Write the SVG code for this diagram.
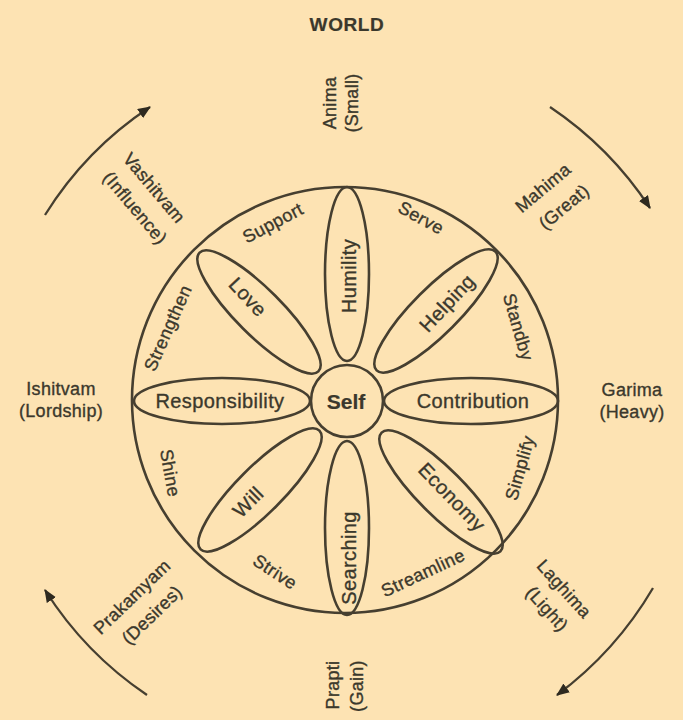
<svg xmlns="http://www.w3.org/2000/svg" width="683" height="720" viewBox="0 0 683 720">
<style>
.ln{fill:none;stroke:#463f30;stroke-width:2.6}
.t{font-family:"Liberation Sans",Arial,sans-serif;fill:#3b382c;stroke:#3b382c;stroke-width:0.35;text-anchor:middle;dominant-baseline:central}
.p{font-size:20px;letter-spacing:0.4px}
.r{font-size:18px;letter-spacing:0.4px}
.o{font-size:18px;letter-spacing:0.3px}
.b{font-weight:bold;stroke-width:0.2}
.arc{fill:none;stroke:#463f30;stroke-width:2.3}
</style>
<defs>
<marker id="ah" viewBox="0 0 12 10" refX="11" refY="5" markerWidth="13" markerHeight="11" orient="auto" markerUnits="userSpaceOnUse">
<path d="M0,0 L12,5 L0,10 z" fill="#2e2a20"/>
</marker>
</defs>
<rect width="683" height="720" fill="#fde3b3"/>

<g id="world"><text class="t b" x="347" y="24" font-size="19" letter-spacing="0.6">WORLD</text></g>

<g id="outer-circle"><circle class="ln" cx="345" cy="400" r="213"/></g>

<g id="self"><circle class="ln" cx="347" cy="401" r="36"/><text class="t b" x="346" y="401" font-size="21">Self</text></g>

<g id="petal-humility"><ellipse class="ln" cx="347" cy="274" rx="22" ry="87"/><text class="t p" transform="translate(349,276) rotate(-90)">Humility</text></g>
<g id="petal-searching"><ellipse class="ln" cx="347" cy="528" rx="22" ry="87"/><text class="t p" transform="translate(349,558) rotate(-90)">Searching</text></g>
<g id="petal-responsibility"><ellipse class="ln" cx="222" cy="401" rx="88" ry="23"/><text class="t p" x="220" y="401">Responsibility</text></g>
<g id="petal-contribution"><ellipse class="ln" cx="471" cy="401" rx="87" ry="23"/><text class="t p" x="473" y="401">Contribution</text></g>
<g id="petal-love"><ellipse class="ln" cx="259" cy="312" rx="23" ry="84" transform="rotate(-45 259 312)"/><text class="t p" transform="translate(248,297) rotate(47)">Love</text></g>
<g id="petal-helping"><ellipse class="ln" cx="436" cy="311" rx="23" ry="84" transform="rotate(45 436 311)"/><text class="t p" transform="translate(447,303) rotate(-47)">Helping</text></g>
<g id="petal-will"><ellipse class="ln" cx="260" cy="490" rx="23" ry="84" transform="rotate(45 260 490)"/><text class="t p" transform="translate(248,502) rotate(-45)">Will</text></g>
<g id="petal-economy"><ellipse class="ln" cx="441" cy="492" rx="23" ry="84" transform="rotate(-45 441 492)"/><text class="t p" transform="translate(452,497) rotate(46)">Economy</text></g>

<g id="ring-labels">
<text class="t r" transform="translate(273,223) rotate(-28)">Support</text>
<text class="t r" transform="translate(421,218) rotate(29)">Serve</text>
<text class="t r" transform="translate(518,327) rotate(74)">Standby</text>
<text class="t r" transform="translate(520,468) rotate(-74)">Simplify</text>
<text class="t r" transform="translate(423,573) rotate(-25)">Streamline</text>
<text class="t r" transform="translate(275,572) rotate(33)">Strive</text>
<text class="t r" transform="translate(170,473) rotate(80)">Shine</text>
<text class="t r" transform="translate(168,328) rotate(-66)">Strengthen</text>
</g>

<g id="label-anima"><text class="t o" transform="translate(330,103) rotate(-90)">Anima</text><text class="t o" transform="translate(352,103) rotate(-90)">(Small)</text></g>
<g id="label-mahima"><text class="t o" transform="translate(543,188) rotate(-40)">Mahima</text><text class="t o" transform="translate(564,207) rotate(-40)">(Great)</text></g>
<g id="label-garima"><text class="t o" x="632" y="390">Garima</text><text class="t o" x="632" y="412">(Heavy)</text></g>
<g id="label-laghima"><text class="t o" transform="translate(564,589) rotate(48)">Laghima</text><text class="t o" transform="translate(547,609) rotate(48)">(Light)</text></g>
<g id="label-prapti"><text class="t o" transform="translate(333,685) rotate(-90)">Prapti</text><text class="t o" transform="translate(357,686) rotate(-90)">(Gain)</text></g>
<g id="label-prakamyam"><text class="t o" transform="translate(132,597) rotate(-44)">Prakamyam</text><text class="t o" transform="translate(152,615) rotate(-44)">(Desires)</text></g>
<g id="label-ishitvam"><text class="t o" x="61" y="389">Ishitvam</text><text class="t o" x="61" y="411">(Lordship)</text></g>
<g id="label-vashitvam"><text class="t o" transform="translate(154,188) rotate(50)">Vashitvam</text><text class="t o" transform="translate(135,208) rotate(50)">(Influence)</text></g>

<g id="connectors">
<path class="arc" d="M45,215 A353,353 0 0 1 150,107" marker-end="url(#ah)"/>
<path class="arc" d="M550,107 A358,358 0 0 1 650,208" marker-end="url(#ah)"/>
<path class="arc" d="M653,588 A361,361 0 0 1 557,695" marker-end="url(#ah)"/>
<path class="arc" d="M147,695 A356,356 0 0 1 45,590" marker-end="url(#ah)"/>
</g>
</svg>
